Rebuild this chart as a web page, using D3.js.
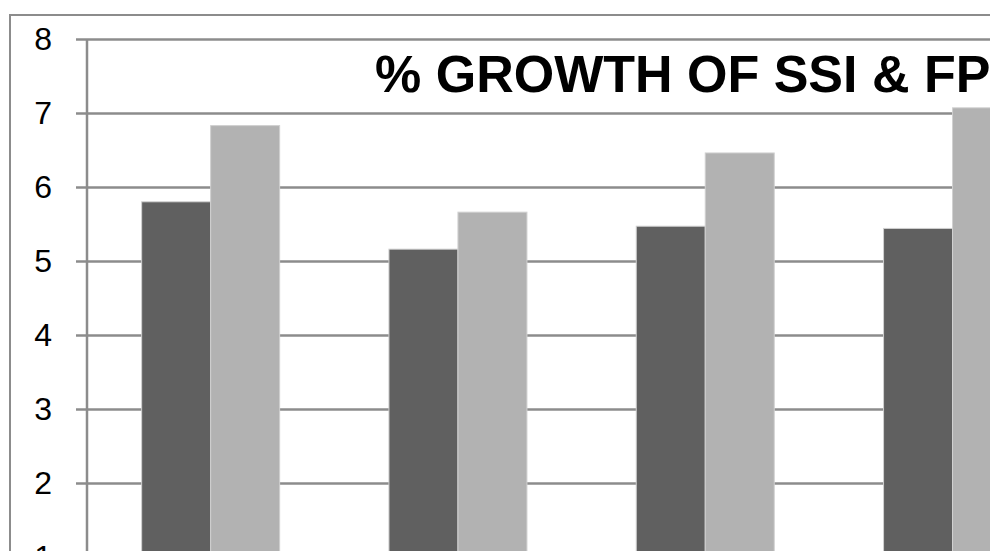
<!DOCTYPE html>
<html>
<head>
<meta charset="utf-8">
<script src="https://cdn.jsdelivr.net/npm/d3@7"></script>
<style>
    html, body { margin: 0; padding: 0; background: #fff; overflow: hidden; }
    svg { display: block; font-family: "Liberation Sans", Arial, sans-serif; }
</style>
</head>
<body>
<div id="chart"></div>
<script>
// Data
const categories = ['Q1', 'Q2', 'Q3', 'Q4'];
const seriesNames = ['SSI', 'FP'];
const ssiValues = [5.80, 5.16, 5.47, 5.44];
const fpValues = [6.83, 5.66, 6.46, 7.07];
const yTicks = [1, 2, 3, 4, 5, 6, 7, 8];
const titleText = '% GROWTH OF SSI & FP';

const colors = { SSI: '#606060', FP: '#b2b2b2' };

const width = 990;
const height = 551;

const svg = d3.select('#chart')
    .append('svg')
    .attr('width', width)
    .attr('height', height);

// Outer chart frame (runs past the right and bottom edges)
svg.append('rect')
    .attr('x', 10)
    .attr('y', 15)
    .attr('width', 1200)
    .attr('height', 800)
    .attr('fill', 'none')
    .attr('stroke', '#8c8c8c')
    .attr('stroke-width', 2);

// Scales
const plotLeft = 87;
const step = 247.3;

const y = d3.scaleLinear()
    .domain([0, 8])
    .range([39 + 8 * 74, 39]);

const x = d3.scaleBand()
    .domain(categories)
    .range([plotLeft, plotLeft + step * categories.length])
    .paddingInner(0.442)
    .paddingOuter(0.221);

const xSub = d3.scaleBand()
    .domain(seriesNames)
    .range([0, x.bandwidth()]);

// Grid lines + y labels via axis
const yAxis = d3.axisLeft(y)
    .tickValues(yTicks)
    .tickSize(-(width - plotLeft + 20))
    .tickSizeOuter(0)
    .tickPadding(35)
    .tickFormat(d3.format('d'));

const yAxisG = svg.append('g')
    .attr('transform', `translate(${plotLeft},0)`)
    .call(yAxis);

yAxisG.select('.domain').remove();
yAxisG.selectAll('.tick line')
    .attr('x1', -11)
    .attr('stroke', '#8c8c8c')
    .attr('stroke-width', 2.5);
yAxisG.selectAll('.tick text')
    .attr('fill', '#000')
    .attr('font-size', 32)
    .attr('font-family', '"Liberation Sans", Arial, sans-serif');

// Vertical axis line
svg.append('line')
    .attr('x1', plotLeft)
    .attr('x2', plotLeft)
    .attr('y1', y(8))
    .attr('y2', height + 10)
    .attr('stroke', '#8c8c8c')
    .attr('stroke-width', 2.5);

// Bars
const rows = categories.map((c, i) => ({ category: c, SSI: ssiValues[i], FP: fpValues[i] }));

const groups = svg.append('g')
    .selectAll('g')
    .data(rows)
    .join('g')
    .attr('transform', d => `translate(${x(d.category)},0)`);

groups.selectAll('rect')
    .data(d => seriesNames.map(s => ({ key: s, value: d[s] })))
    .join('rect')
    .attr('x', d => xSub(d.key))
    .attr('y', d => y(d.value))
    .attr('width', xSub.bandwidth())
    .attr('height', d => y(0) - y(d.value))
    .attr('fill', d => colors[d.key])
    .attr('stroke', '#d0d0d0')
    .attr('stroke-width', 1);

// Title
svg.append('text')
    .attr('x', 375)
    .attr('y', 92)
    .attr('font-size', 52)
    .attr('font-weight', 'bold')
    .attr('fill', '#000')
    .text(titleText);
</script>
</body>
</html>
